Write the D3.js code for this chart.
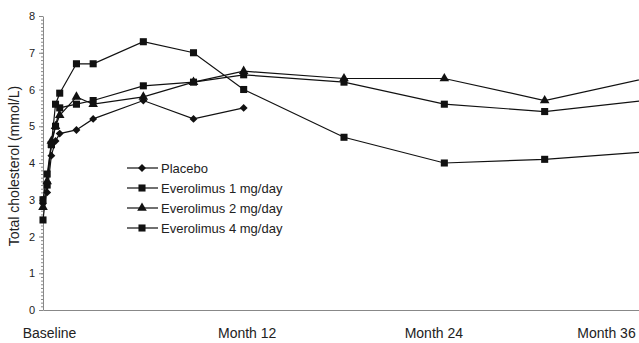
<!DOCTYPE html>
<html>
<head>
<meta charset="utf-8">
<script src="https://cdn.jsdelivr.net/npm/d3@7"></script>
<style>
  body { margin: 0; background: #fff; }
  svg { display: block; font-family: 'Liberation Sans', Arial, sans-serif; }
</style>
</head>
<body>
<svg id="chart" width="639" height="343"></svg>
<script>
// time points in months (first weeks as fractions)
const months = [0, 0.25, 0.5, 0.75, 1, 2, 3, 6, 9, 12, 18, 24, 30, 36];
const placebo = [2.9, 3.2, 4.2, 4.6, 4.8, 4.9, 5.2, 5.7, 5.2, 5.5];
const evero1 = [2.45, 3.4, 4.5, 5.0, 5.5, 5.6, 5.7, 6.1, 6.2, 6.4, 6.2, 5.6, 5.4, 5.7];
const evero2 = [2.8, 3.5, 4.6, 5.0, 5.3, 5.8, 5.6, 5.8, 6.2, 6.5, 6.3, 6.3, 5.7, 6.3];
const evero4 = [3.0, 3.7, 4.5, 5.6, 5.9, 6.7, 6.7, 7.3, 7.0, 6.0, 4.7, 4.0, 4.1, 4.3];
const seriesNames = ['Placebo', 'Everolimus 1 mg/day', 'Everolimus 2 mg/day', 'Everolimus 4 mg/day'];
const xTickMonths = [0, 12, 24, 36];
const xTickLabels = ['Baseline', 'Month 12', 'Month 24', 'Month 36'];

const svg = d3.select('#chart');
const margin = { top: 16, left: 43, bottom: 33 };
const height = +svg.attr('height');

const x = d3.scaleLinear().domain([0, 36]).range([margin.left, 645]);
const y = d3.scaleLinear().domain([0, 8]).range([height - margin.bottom, margin.top]);

const symbols = [
  d3.symbol().type(d3.symbolDiamond2).size(40),
  d3.symbol().type(d3.symbolSquare).size(50),
  d3.symbol().type(d3.symbolTriangle).size(40),
  d3.symbol().type(d3.symbolSquare).size(50),
];
const series = [placebo, evero1, evero2, evero4].map((vals, i) => ({
  name: seriesNames[i],
  symbol: symbols[i],
  points: vals.map((v, j) => ({ m: months[j], v })),
}));

// y axis: minor ticks every 0.1, major every 1
svg.append('g')
  .attr('transform', `translate(${margin.left},0)`)
  .call(d3.axisLeft(y).tickValues(d3.range(0, 8.01, 0.1)).tickSize(2).tickFormat(''))
  .call(g => g.selectAll('line').attr('stroke', '#888'))
  .call(g => g.select('.domain').remove());

svg.append('g')
  .attr('transform', `translate(${margin.left},0)`)
  .call(d3.axisLeft(y).ticks(8).tickSize(4).tickPadding(4).tickSizeOuter(0))
  .call(g => g.selectAll('line').attr('stroke', '#888'))
  .call(g => g.select('.domain').attr('stroke', '#888'))
  .call(g => g.selectAll('text').attr('font-size', 11).attr('fill', '#222')
    .attr('font-family', "'Liberation Sans', Arial, sans-serif"));

// x axis
const nudge = [6, 3, -11, -39];
svg.append('g')
  .attr('transform', `translate(0,${y(0)})`)
  .call(d3.axisBottom(x).tickValues(xTickMonths).tickSize(0).tickPadding(18)
    .tickFormat((d, i) => xTickLabels[i]))
  .call(g => g.select('.domain').attr('stroke', '#888'))
  .call(g => g.selectAll('text').attr('font-size', 14).attr('fill', '#222')
    .attr('dx', (d, i) => nudge[i])
    .attr('font-family', "'Liberation Sans', Arial, sans-serif"));

// y title
svg.append('text')
  .attr('transform', `translate(14,${(y(0) + y(8)) / 2 + 3}) rotate(-90)`)
  .attr('text-anchor', 'middle')
  .attr('dy', '0.35em')
  .attr('font-size', 14)
  .attr('fill', '#222')
  .text('Total cholesterol (mmol/L)');

const line = d3.line().x(d => x(d.m)).y(d => y(d.v));

const groups = svg.append('g').selectAll('g').data(series).join('g');
groups.append('path')
  .attr('d', d => line(d.points))
  .attr('fill', 'none')
  .attr('stroke', '#111')
  .attr('stroke-width', 1.2);
groups.each(function (s) {
  d3.select(this).selectAll('path.pt')
    .data(s.points)
    .join('path')
    .attr('class', 'pt')
    .attr('transform', d => `translate(${x(d.m)},${y(d.v)})`)
    .attr('d', s.symbol)
    .attr('fill', '#111');
});

// legend
const legend = svg.append('g')
  .attr('transform', 'translate(127,168)')
  .selectAll('g')
  .data(series)
  .join('g')
  .attr('transform', (d, i) => `translate(0,${i * 20})`);
legend.append('line')
  .attr('x1', 0).attr('x2', 31)
  .attr('stroke', '#111').attr('stroke-width', 1.2);
legend.append('path')
  .attr('transform', 'translate(15,0)')
  .attr('d', d => d.symbol())
  .attr('fill', '#111');
legend.append('text')
  .attr('x', 34)
  .attr('dy', '0.35em')
  .attr('font-size', 13)
  .attr('fill', '#222')
  .text(d => d.name);
</script>
</body>
</html>
